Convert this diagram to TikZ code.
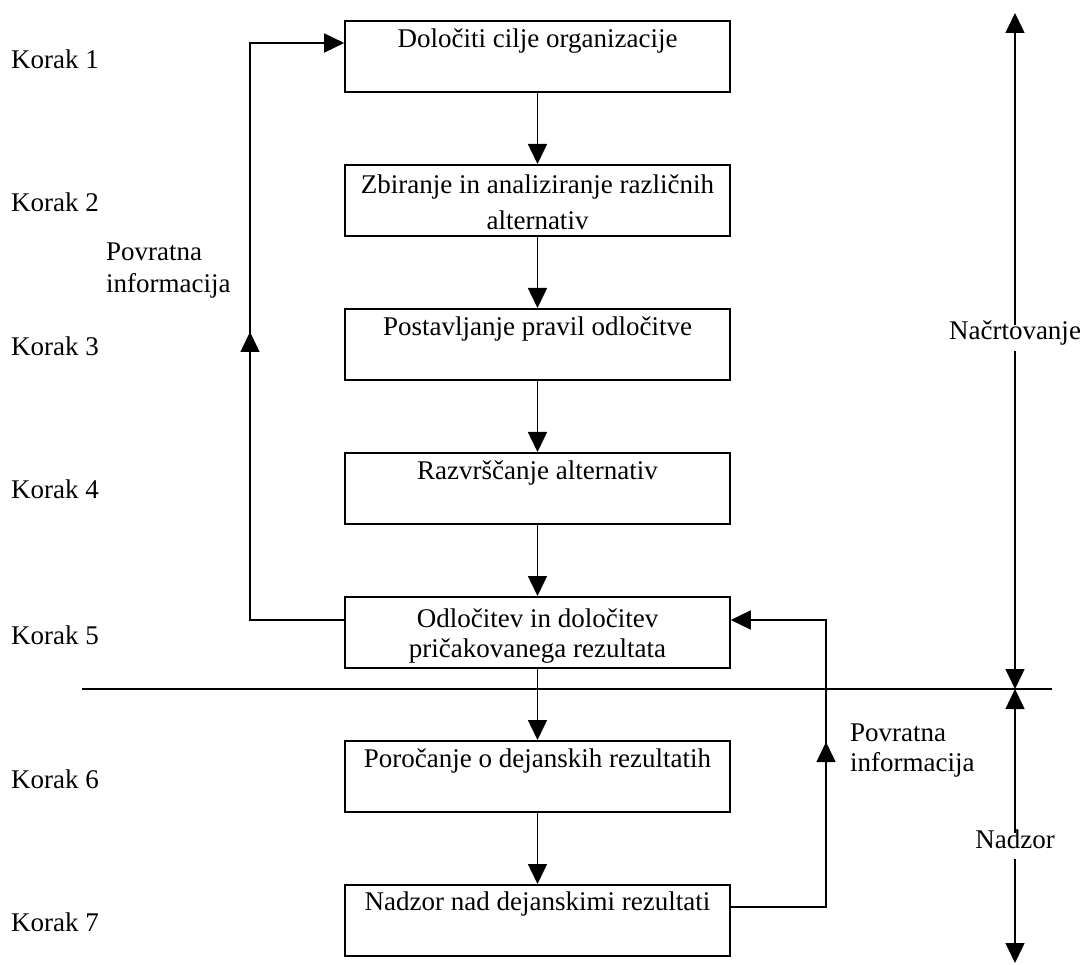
\documentclass[tikz,border=0pt]{standalone}
\usepackage{fontspec}
\setmainfont{Liberation Serif}
\usetikzlibrary{arrows.meta}

\begin{document}
\begin{tikzpicture}[x=1pt, y=-1pt,
  every node/.style={font=\fontsize{27}{31}\selectfont},
  stepbox/.style={draw, line width=1.6pt, minimum width=385pt, minimum height=71pt,
    anchor=north, inner sep=0pt},
  boxtext/.style={anchor=north, inner sep=0pt, align=center},
  steplabel/.style={anchor=base west, inner sep=0pt},
  sidenote/.style={anchor=north west, inner sep=0pt, align=left},
  phase/.style={anchor=base, inner xsep=0pt, inner ysep=8pt, text height=0.7em, text depth=0.25em},
  wire/.style={line width=1.5pt},
  flow/.style={line width=1.5pt, -{Triangle[length=20pt, width=19pt]}}
]
\path[fill=white, use as bounding box] (0,0) rectangle (1085,965);

% process boxes
\node[stepbox] (b1) at (537.5,20)  {};
\node[stepbox] (b2) at (537.5,164) {};
\node[stepbox] (b3) at (537.5,308) {};
\node[stepbox] (b4) at (537.5,452) {};
\node[stepbox] (b5) at (537.5,596) {};
\node[stepbox] (b6) at (537.5,740) {};
\node[stepbox] (b7) at (537.5,884) {};

% box captions
\node[boxtext] (t1) at (537.5,28.5)  {Določiti cilje organizacije};
\node[boxtext, font=\fontsize{27}{36}\selectfont] (t2) at (537.5,174.5)
  {Zbiranje in analiziranje različnih\\alternativ};
\node[boxtext] (t3) at (537.5,316.5) {Postavljanje pravil odločitve};
\node[boxtext] (t4) at (537.5,460.5) {Razvrščanje alternativ};
\node[boxtext, font=\fontsize{27}{30}\selectfont] (t5) at (537.5,608.5)
  {Odločitev in določitev\\pričakovanega rezultata};
\node[boxtext] (t6) at (537.5,748.5) {Poročanje o dejanskih rezultatih};
\node[boxtext] (t7) at (537.5,891.5) {Nadzor nad dejanskimi rezultati};

% step labels
\node[steplabel] (k1) at (11,69)  {Korak 1};
\node[steplabel] (k2) at (11,212) {Korak 2};
\node[steplabel] (k3) at (11,356) {Korak 3};
\node[steplabel] (k4) at (11,499) {Korak 4};
\node[steplabel] (k5) at (11,644) {Korak 5};
\node[steplabel] (k6) at (11,788) {Korak 6};
\node[steplabel] (k7) at (11,931) {Korak 7};

% feedback notes
\node[sidenote, font=\fontsize{27}{32}\selectfont] (fbl) at (106,243) {Povratna\\informacija};
\node[sidenote, font=\fontsize{27}{30}\selectfont] (fbr) at (850,724) {Povratna\\informacija};

% main flow
\draw[flow] (b1.south) -- (b2.north);
\draw[flow] (b2.south) -- (b3.north);
\draw[flow] (b3.south) -- (b4.north);
\draw[flow] (b4.south) -- (b5.north);
\draw[flow] (b5.south) -- (b6.north);
\draw[flow] (b6.south) -- (b7.north);

% left feedback loop
\coordinate (lfA) at (250,620);
\coordinate (lfB) at (250,43);
\coordinate (lfTip) at (250,332);
\draw[flow] (b5.west |- lfA) -- (lfA) -- (lfB) -- (b1.west |- lfB);
\draw[flow] (lfA) -- (lfTip);

% right feedback loop
\coordinate (rfA) at (826,907);
\coordinate (rfB) at (826,620);
\coordinate (rfTip) at (826,742);
\draw[flow] (b7.east |- rfA) -- (rfA) -- (rfB) -- (b5.east |- rfB);
\draw[flow] (rfA) -- (rfTip);

% separator between planning and control
\coordinate (hl) at (82,689);
\coordinate (hr) at (1052,689);
\draw[wire] (hl) -- (hr);

% phase extents
\node[phase] (plan) at (1015,340) {Načrtovanje};
\node[phase] (ctrl) at (1015,848) {Nadzor};
\coordinate (pTop) at (1015,13);
\coordinate (pMid) at (1015,689);
\coordinate (pBot) at (1015,963);
\draw[flow] (plan.north) -- (pTop);
\draw[flow] (plan.south) -- (pMid);
\draw[flow] (ctrl.north) -- (pMid);
\draw[flow] (ctrl.south) -- (pBot);
\end{tikzpicture}
\end{document}
